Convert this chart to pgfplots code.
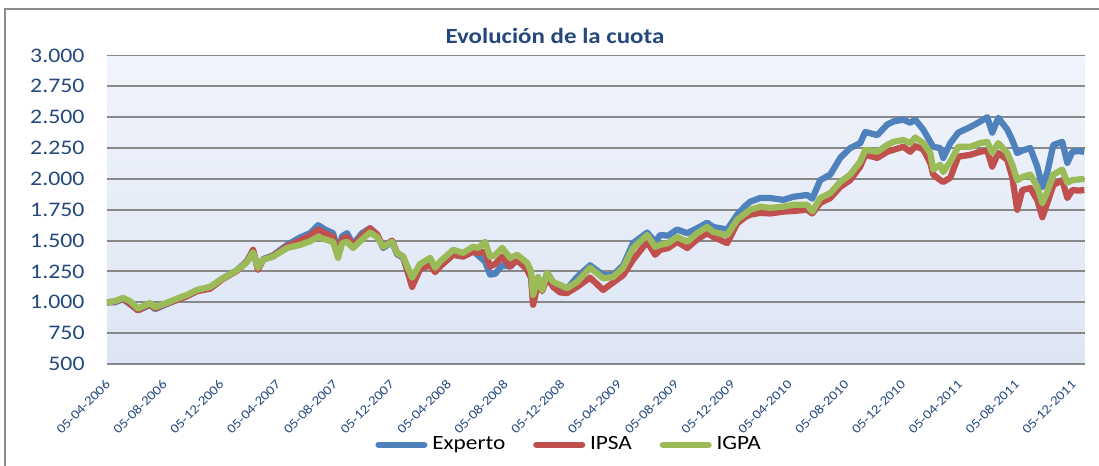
\documentclass[border=0pt]{standalone}
\usepackage{fontspec}
\setmainfont{Carlito}[FakeStretch=1.15]
\usepackage{pgfplots}
\usepackage{pgfplotstable}
\pgfplotsset{compat=1.18}
\definecolor{cBlue}{RGB}{79,129,189}
\definecolor{cRed}{RGB}{192,80,77}
\definecolor{cGreen}{RGB}{155,187,89}
\definecolor{cTxt}{RGB}{36,72,124}
\definecolor{cGrid}{RGB}{136,136,136}
\definecolor{bgTop}{RGB}{240,244,251}
\definecolor{bgMid}{RGB}{196,211,236}
\definecolor{bgBot}{RGB}{221,229,244}
\definecolor{cFrame}{RGB}{140,140,140}

% m = months since 05-04-2006; Experto, IPSA, IGPA
\pgfplotstableread{
m      exp   ipsa  igpa
0.00   1000  1000  1000
0.56   1000  1005  1010
1.13   1025  1030  1035
1.62   985   990   1010
2.18   935   935   950
2.68   960   965   975
3.03   980   985   995
3.38   945   950   960
4.08   980   985   990
4.93   1020  1020  1030
5.63   1050  1050  1060
6.34   1095  1090  1100
7.25   1120  1110  1125
8.17   1195  1190  1195
9.15   1260  1255  1260
9.86   1335  1330  1325
10.28  1420  1425  1405
10.63  1270  1265  1280
10.99  1350  1345  1345
11.69  1380  1375  1370
12.68  1465  1455  1440
13.59  1525  1500  1465
14.30  1560  1540  1495
14.86  1625  1590  1530
15.35  1590  1560  1510
15.92  1560  1530  1490
16.27  1400  1380  1360
16.55  1535  1510  1480
16.90  1560  1530  1490
17.32  1470  1460  1440
17.96  1560  1540  1510
18.52  1600  1600  1565
19.01  1550  1550  1530
19.44  1440  1450  1450
20.07  1490  1500  1490
20.42  1390  1400  1400
20.85  1360  1370  1370
21.48  1150  1125  1200
22.04  1280  1270  1310
22.75  1320  1300  1360
23.10  1260  1245  1280
23.45  1300  1290  1330
24.37  1390  1385  1425
25.07  1375  1370  1400
25.77  1415  1410  1450
26.13  1380  1400  1440
26.62  1330  1410  1490
26.97  1225  1290  1370
27.32  1230  1310  1380
27.82  1300  1370  1440
28.38  1290  1290  1360
28.87  1345  1345  1385
29.58  1265  1265  1320
29.86  1200  1200  1250
30.00  1000  980   1060
30.35  1180  1160  1205
30.63  1100  1090  1100
30.99  1240  1200  1240
31.41  1160  1125  1165
31.90  1130  1080  1140
32.39  1110  1075  1115
33.10  1205  1125  1165
34.01  1300  1200  1280
34.93  1220  1100  1195
35.63  1220  1160  1205
36.34  1300  1220  1280
37.04  1480  1345  1440
38.03  1565  1490  1545
38.59  1490  1385  1450
38.94  1545  1425  1465
39.51  1540  1440  1480
40.14  1590  1490  1530
40.85  1560  1440  1490
41.55  1600  1510  1560
42.25  1645  1560  1610
42.68  1610  1530  1570
43.66  1590  1480  1545
44.37  1710  1640  1670
44.93  1780  1690  1720
45.28  1815  1710  1750
45.99  1845  1725  1775
46.69  1845  1720  1765
47.61  1830  1735  1775
48.31  1855  1740  1790
49.30  1870  1750  1790
49.65  1840  1720  1735
50.21  1990  1805  1845
50.92  2035  1845  1885
51.62  2170  1935  1975
52.32  2250  1990  2035
53.03  2290  2100  2140
53.38  2380  2195  2235
54.23  2355  2170  2220
54.93  2440  2220  2275
55.35  2465  2235  2300
56.06  2480  2260  2315
56.55  2455  2220  2290
56.90  2480  2265  2335
57.46  2400  2240  2290
57.96  2300  2130  2210
58.17  2260  2035  2075
58.66  2250  1990  2115
58.87  2170  1975  2055
59.37  2290  2010  2140
59.93  2375  2180  2260
60.77  2420  2195  2260
61.48  2465  2220  2290
61.97  2500  2230  2300
62.32  2375  2100  2210
62.75  2495  2210  2290
63.38  2400  2155  2210
63.73  2315  2015  2115
64.08  2210  1750  1990
64.44  2230  1910  2015
65.00  2250  1925  2035
65.49  2100  1830  1935
65.85  1935  1690  1805
66.20  2055  1805  1895
66.62  2275  1950  2035
67.25  2300  1990  2075
67.61  2130  1845  1970
67.96  2220  1910  1990
68.38  2225  1905  1995
68.80  2220  1910  2000
}\cuota

\begin{document}
\begin{tikzpicture}[x=1pt,y=1pt]
\useasboundingbox (0,0) rectangle (456.09,193.39);
\draw[cFrame, line width=0.8pt] (2.08,-2) -- (2.08,189.66) -- (460,189.66);
\node[font=\bfseries\fontsize{9.0}{10}\selectfont, text=cTxt] at (230.3,178.45) {Evolución de la cuota};
\begin{axis}[
  at={(44.4pt,42.33pt)}, anchor=south west,
  scale only axis, width=405.87pt, height=128.03pt,
  xmin=0, xmax=68.85, ymin=500, ymax=3000,
  axis line style={draw=none},
  axis background/.style={shade, top color=bgTop, middle color=bgMid, bottom color=bgBot},
  ytick={500,750,...,3000},
  yticklabels={500,750,{1.000},{1.250},{1.500},{1.750},{2.000},{2.250},{2.500},{2.750},{3.000}},
  xtick={0,4,...,68},
  xticklabels={05-04-2006,05-08-2006,05-12-2006,05-04-2007,05-08-2007,05-12-2007,05-04-2008,05-08-2008,05-12-2008,05-04-2009,05-08-2009,05-12-2009,05-04-2010,05-08-2010,05-12-2010,05-04-2011,05-08-2011,05-12-2011},
  major tick length=0pt,
  ymajorgrids, xmajorgrids=false, grid style={cGrid, line width=0.8pt},
  yticklabel style={font=\fontsize{8.6}{10}\selectfont, text=cTxt, anchor=east, inner sep=0pt, xshift=-9.1pt},
  xticklabel style={yshift=-7.5pt, xshift=0.5pt, font=\fontsize{5.4}{6}\selectfont, text=cTxt, rotate=45, anchor=east, inner sep=0pt},
  legend columns=3,
  legend style={at={(0.474,-0.262)}, anchor=center, draw=none, fill=none,
    font=\fontsize{8.4}{9}\selectfont, inner sep=0pt,
    /tikz/every even column/.append style={column sep=9.5pt}},
  legend image code/.code={\draw[#1, line cap=round] (0pt,0pt) -- (19pt,0pt);},
  every axis plot/.append style={line width=2.6pt, line join=round, no markers},
]
\addplot[cBlue] table[x=m, y=exp] {\cuota};
\addlegendentry{Experto}
\addplot[cRed] table[x=m, y=ipsa] {\cuota};
\addlegendentry{IPSA}
\addplot[cGreen] table[x=m, y=igpa] {\cuota};
\addlegendentry{IGPA}
\end{axis}
\end{tikzpicture}
\end{document}
